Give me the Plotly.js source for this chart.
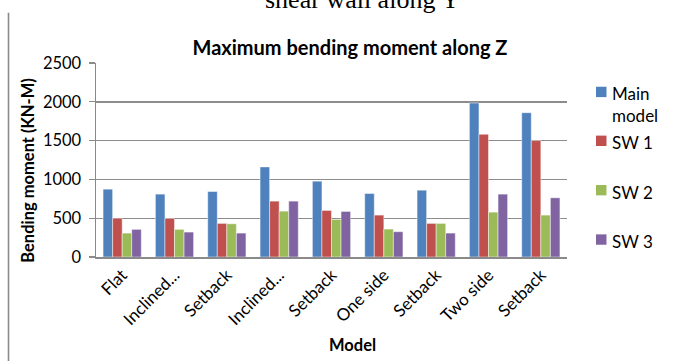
<!DOCTYPE html>
<html>
<head>
<meta charset="utf-8">
<script src="https://cdn.plot.ly/plotly-3.0.1.min.js"></script>
<style>
  html, body { margin: 0; padding: 0; background: #fff; }
  #chart { width: 678px; height: 361px; }
</style>
</head>
<body>
<div id="chart"></div>
<script>
// Categories along the x axis
const models = ["Flat", "Inclined...", "Setback", "Inclined...", "Setback", "One side", "Setback", "Two side", "Setback"];

// Maximum bending moment along Z (KN-M) for each series
const mainModel = [874, 810, 844, 1161, 977, 818, 861, 1984, 1860];
const sw1       = [500, 497, 433, 720, 600, 540, 433, 1581, 1500];
const sw2       = [308, 356, 428, 591, 484, 360, 433, 578, 540];
const sw3       = [356, 321, 308, 720, 587, 326, 308, 810, 763];

const seriesNames = ["Main model", "SW 1", "SW 2", "SW 3"];
const legendLabels = ["Main<br>model", "SW 1", "SW 2", "SW 3"];
const yTicks = [0, 500, 1000, 1500, 2000, 2500];

const colors = ["#4F81BD", "#C0504D", "#9BBB59", "#8064A2"];
const seriesValues = [mainModel, sw1, sw2, sw3];

// Category slots are addressed by index so repeated labels stay separate bars
const xIdx = models.map((_, i) => i);

const traces = seriesValues.map((vals, k) => ({
  type: "bar",
  name: seriesNames[k],
  x: xIdx,
  y: vals,
  marker: { color: colors[k], line: { color: "rgba(255,255,255,0.45)", width: 1 } },
  showlegend: false,
  hoverinfo: "y+name"
}));

// Plot area in pixels, used to place the side key and free text
const W = 678, H = 361;
const L = 96, R = 567, T = 62.5, B = 257;
const px = x => (x - L) / (R - L);
const py = y => (B - y) / (B - T);

const FONT = "Lato, 'Open Sans', sans-serif";

const shapes = [
  // thin rule running down the left side of the page
  { type: "line", xref: "paper", yref: "paper", x0: px(8.5), x1: px(8.5), y0: py(12), y1: py(H + 2),
    line: { color: "#8a8a8a", width: 1.6 } }
];
const annotations = [
  { text: "shear wall along Y", xref: "paper", yref: "paper", x: px(362), y: py(15),
    xanchor: "center", yanchor: "bottom", showarrow: false,
    font: { family: "'Liberation Serif', 'Times New Roman', serif", size: 26, color: "#000" } },
  { text: "<b>Model</b>", xref: "paper", yref: "paper", x: px(352), y: py(345),
    xanchor: "center", yanchor: "middle", showarrow: false,
    font: { family: FONT, size: 16.5, color: "#000" } },
  { text: "<b>Bending moment (KN-M)</b>", xref: "paper", yref: "paper", x: px(28.5), y: py(170),
    xanchor: "center", yanchor: "middle", textangle: -90, showarrow: false,
    font: { family: FONT, size: 16.5, color: "#000" } }
];

// Side key: coloured squares with series labels
const keyY = [91.5, 140.5, 190, 239.5];
legendLabels.forEach((lab, k) => {
  const cy = keyY[k];
  shapes.push({ type: "rect", xref: "paper", yref: "paper",
    x0: px(596), x1: px(606.5), y0: py(cy + 5.2), y1: py(cy - 5.2),
    fillcolor: colors[k], line: { width: 0 } });
  annotations.push({ text: lab, xref: "paper", yref: "paper", x: px(610), y: py(cy - 10.5),
    xanchor: "left", yanchor: "top", align: "left", showarrow: false,
    font: { family: FONT, size: 17, color: "#000" } });
});

const layout = {
  width: W, height: H,
  margin: { l: L, r: W - R, t: T, b: H - B, pad: 0 },
  paper_bgcolor: "#fff", plot_bgcolor: "#fff",
  title: { text: "<b>Maximum bending moment along Z</b>", xref: "paper", x: px(350),
    yref: "container", y: 1 - 48 / H, xanchor: "center", yanchor: "middle",
    font: { family: FONT, size: 20, color: "#000" } },
  barmode: "group", bargap: 0.27, bargroupgap: 0,
  showlegend: false,
  xaxis: {
    tickmode: "array", tickvals: xIdx, ticktext: models, tickangle: -45,
    range: [-0.5, models.length - 0.5],
    showline: true, linecolor: "#8a8a8a", linewidth: 1.5,
    showgrid: false, ticks: "", zeroline: false,
    tickfont: { family: FONT, size: 17, color: "#000" }
  },
  yaxis: {
    range: [0, 2500], tickmode: "array", tickvals: yTicks,
    showline: true, linecolor: "#8a8a8a", linewidth: 1.5,
    showgrid: true, gridcolor: "#8c8c8c", gridwidth: 1.4,
    ticks: "outside", ticklen: 6, tickcolor: "#8a8a8a", tickwidth: 1.3,
    ticklabelstandoff: 4,
    zeroline: false,
    tickfont: { family: FONT, size: 16.5, color: "#000" }
  },
  shapes: shapes,
  annotations: annotations
};

Plotly.newPlot("chart", traces, layout, { displayModeBar: false, staticPlot: true });
</script>
</body>
</html>
